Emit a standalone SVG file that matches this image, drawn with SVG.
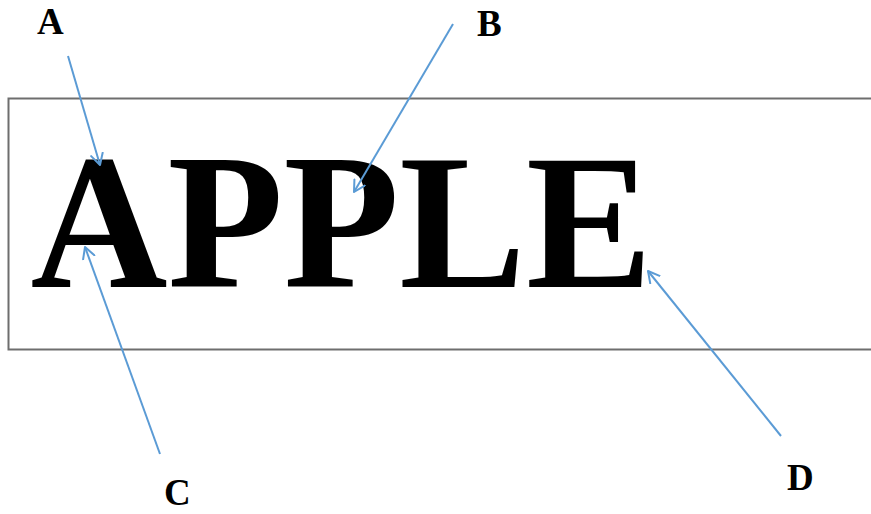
<svg xmlns="http://www.w3.org/2000/svg" width="871" height="514" viewBox="0 0 871 514">
  <style>
    .lbl { font-family: "Liberation Serif", "Times New Roman", serif; font-weight: bold; font-size: 37px; fill: #000; }
    .word { font-family: "Liberation Serif", "Times New Roman", serif; font-weight: bold; font-size: 193px; fill: #000; }
    .arrow { stroke: #5B9BD5; stroke-width: 2; fill: none; marker-end: url(#open); }
  </style>
  <defs>
    <marker id="open" viewBox="0 0 14 14" refX="12" refY="7" markerWidth="14" markerHeight="14" markerUnits="userSpaceOnUse" orient="auto">
      <path d="M1,1 L12,7 L1,13" fill="none" stroke="#5B9BD5" stroke-width="2" stroke-linecap="round" stroke-linejoin="round"/>
    </marker>
  </defs>
  <rect width="871" height="514" fill="#fff"/>
  <g id="frame">
    <path d="M871,98.5 L8.5,98.5 L8.5,349.5 L871,349.5" fill="none" stroke="#6e6e6e" stroke-width="2"/>
  </g>
  <g id="word">
    <text class="word" x="30.5" y="287" textLength="622" lengthAdjust="spacingAndGlyphs">APPLE</text>
  </g>
  <g id="label-A"><text class="lbl" x="37" y="34">A</text></g>
  <g id="label-B"><text class="lbl" x="477" y="36">B</text></g>
  <g id="label-C"><text class="lbl" x="164" y="505">C</text></g>
  <g id="label-D"><text class="lbl" x="787" y="490">D</text></g>
  <g id="connectors">
    <line class="arrow" x1="68" y1="56" x2="100" y2="165"/>
    <line class="arrow" x1="453" y1="24" x2="354" y2="192"/>
    <line class="arrow" x1="160" y1="454" x2="85" y2="247"/>
    <line class="arrow" x1="781" y1="436" x2="648" y2="271"/>
  </g>
</svg>
